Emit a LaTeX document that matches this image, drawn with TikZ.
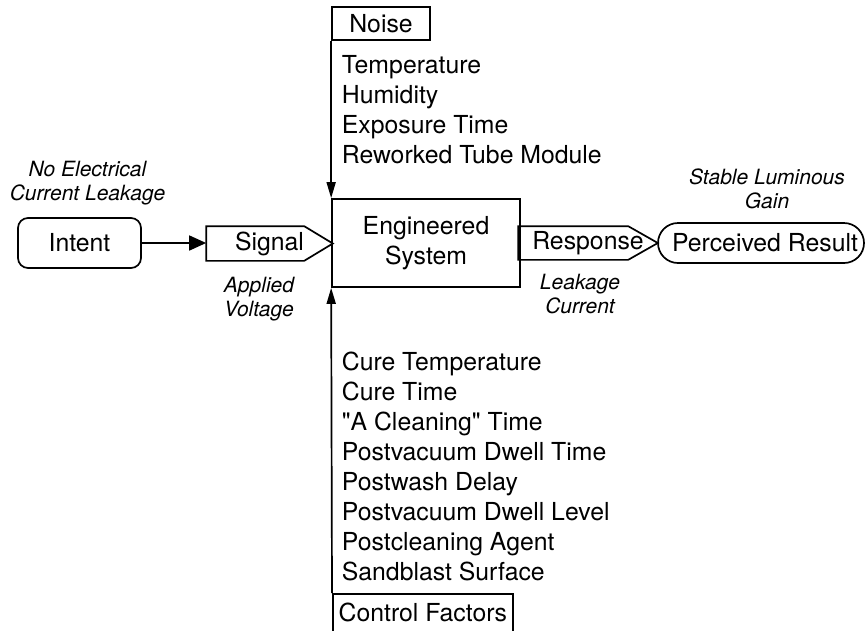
\documentclass[tikz,border=0pt]{standalone}
\usepackage{fontspec}
\setmainfont{TeX Gyre Heros}
\usetikzlibrary{arrows.meta}
\begin{document}
\begin{tikzpicture}[x=1pt,y=-1pt,
  line width=1.7pt,
  lbl/.style={font=\fontsize{24.8}{30}\selectfont, inner sep=0pt},
  ital/.style={font=\fontsize{21}{24.5}\selectfont\itshape, align=center, inner sep=0pt},
  varr/.style={-{Triangle[length=16pt,width=9pt]}},
  harr/.style={-{Triangle[length=17pt,width=15pt]}},
]
\useasboundingbox (0,0) rectangle (865,630);
\fill[white] (0,0) rectangle (865,630);
\clip (0,0) rectangle (865,630);

% main chain
\node[draw, rounded corners=10pt, minimum width=123pt, minimum height=50pt, lbl] (intent) at (79.5,243) {Intent};
\node[lbl, minimum width=125pt, minimum height=33pt] (signal) at (269.5,243.5) {Signal\hspace{7pt}};
\draw (signal.north west) -- ([xshift=98pt]signal.north west) -- (signal.east)
      -- ([xshift=98pt]signal.south west) -- (signal.south west) -- cycle;
\node[draw, minimum width=188pt, minimum height=88pt, lbl, align=center] (sys) at (426,243) {Engineered\\System};
\node[lbl, minimum width=138pt, minimum height=32pt] (resp) at (588,243) {Response\hspace{10pt}};
\draw (resp.north west) -- ([xshift=110pt]resp.north west) -- (resp.east)
      -- ([xshift=110pt]resp.south west) -- (resp.south west) -- cycle;
\node[draw, rounded corners=20pt, minimum width=206pt, minimum height=40pt, lbl] (perc) at (761,243) {\hspace*{8pt}Perceived Result};

% noise and control factors
\node[draw, lbl, minimum width=98pt, minimum height=33pt] (noise) at (381,23.5) {Noise};
\node[draw, lbl, minimum width=180pt, minimum height=38pt, anchor=north west] (ctrl) at (332,593) {Control Factors};

\node[lbl, anchor=north west, align=left] (noiselist) at (341,54.5)
  {Temperature\\Humidity\\Exposure Time\\Reworked Tube Module};
\node[lbl, anchor=north west, align=left] (ctrllist) at (341,351.5)
  {Cure Temperature\\Cure Time\\\textquotedbl A Cleaning\textquotedbl\ Time\\Postvacuum Dwell Time\\Postwash Delay\\Postvacuum Dwell Level\\Postcleaning Agent\\Sandblast Surface};

% connectors
\draw[harr] (intent.east) -- (intent.east -| signal.west);
\draw[varr] (noise.south west) -- (sys.north west);
\draw[varr] (ctrl.north west) -- (sys.south west);

% italic labels
\node[ital] (intentlbl) at (87.5,183) {No Electrical\\Current Leakage};
\node[ital] (signallbl) at (259,299) {Applied\\Voltage};
\node[ital] (resplbl) at (580,294) {Leakage\\Current};
\node[ital] (perclbl) at (767,189) {Stable Luminous\\Gain};
\end{tikzpicture}
\end{document}
